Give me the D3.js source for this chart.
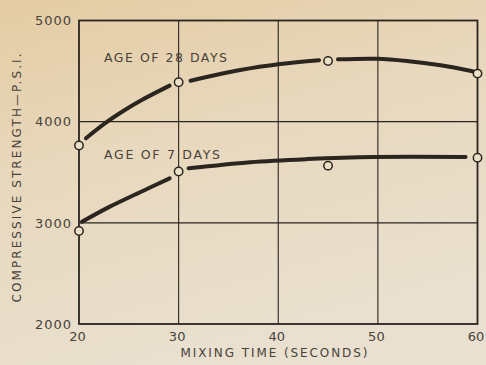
<!DOCTYPE html>
<html>
<head>
<meta charset="utf-8">
<script src="https://cdn.jsdelivr.net/npm/d3@7/dist/d3.min.js"></script>
<style>
  html, body { margin: 0; padding: 0; }
  body { width: 486px; height: 365px; overflow: hidden; }
  svg { display: block; }
  text { font-family: "DejaVu Sans", sans-serif; fill: #48423b; }
</style>
</head>
<body>
<svg id="chart" width="486" height="365"></svg>
<script>
// Mixing time (seconds) axis ticks and strength (psi) ticks
const xTicks = [20, 30, 40, 50, 60];
const yTicks = [2000, 3000, 4000, 5000];

// Test results: [mixing time, compressive strength]
const points28 = [[20, 3764], [30, 4390], [45, 4600], [60, 4475]];
const points7 = [[20, 2920], [30, 3507], [45, 3565], [60, 3644]];

// Faired curves through the results, broken at the markers
const curve28 = [
  [[20.7, 3836], [22.7, 3990], [24.6, 4115], [26.3, 4214], [29.1, 4356]],
  [[31.2, 4405], [36.2, 4511], [40.2, 4570], [44.1, 4607]],
  [[46.0, 4616], [49.9, 4622], [52.9, 4600], [56.3, 4557], [59.5, 4498]]
];
const curve7 = [
  [[20.3, 3010], [23.0, 3155], [26.3, 3310], [29.1, 3440]],
  [[31.0, 3539], [37.2, 3600], [42.9, 3630], [49.6, 3650], [58.8, 3650]]
];

const labels = [
  { text: "AGE OF 28 DAYS", x: 104, y: 62, len: 123 },
  { text: "AGE OF 7 DAYS", x: 104, y: 159, len: 116 }
];

const svg = d3.select("#chart");
const W = 486, H = 365;

// paper background
const defs = svg.append("defs");
const grad = defs.append("linearGradient")
  .attr("id", "paper").attr("x1", "0").attr("y1", "0").attr("x2", "0.35").attr("y2", "1");
grad.append("stop").attr("offset", "0").attr("stop-color", "#e4cca3");
grad.append("stop").attr("offset", "0.45").attr("stop-color", "#e8d8bd");
grad.append("stop").attr("offset", "1").attr("stop-color", "#e9e0cf");
svg.append("rect").attr("width", W).attr("height", H).attr("fill", "url(#paper)");

const x = d3.scaleLinear().domain([20, 60]).range([79, 477.5]);
const y = d3.scaleLinear().domain([2000, 5000]).range([324, 20.5]);

const ink = "#2b2520";

// grid
const g = svg.append("g");
g.selectAll("line.vg").data(xTicks.slice(1, -1)).join("line")
  .attr("x1", d => x(d)).attr("x2", d => x(d))
  .attr("y1", y(5000)).attr("y2", y(2000))
  .attr("stroke", ink).attr("stroke-width", 1.1);
g.selectAll("line.hg").data(yTicks.slice(1, -1)).join("line")
  .attr("x1", x(20)).attr("x2", x(60))
  .attr("y1", d => y(d)).attr("y2", d => y(d))
  .attr("stroke", ink).attr("stroke-width", 1.1);

// frame
g.append("rect")
  .attr("x", x(20)).attr("y", y(5000))
  .attr("width", x(60) - x(20)).attr("height", y(2000) - y(5000))
  .attr("fill", "none").attr("stroke", ink).attr("stroke-width", 1.8);

// axes (labels only; lines are the frame)
const xAxis = d3.axisBottom(x).tickValues(xTicks).tickSize(0).tickPadding(8).tickFormat(d3.format("d"));
const yAxis = d3.axisLeft(y).tickValues(yTicks).tickSize(0).tickPadding(7).tickFormat(d3.format("d"));

const gx = svg.append("g").attr("transform", `translate(0,${y(2000)})`).call(xAxis);
const gy = svg.append("g").attr("transform", `translate(${x(20)},0)`).call(yAxis);
[gx, gy].forEach(a => {
  a.select(".domain").remove();
  a.selectAll("text")
    .style("font-family", '"DejaVu Sans", sans-serif')
    .style("font-size", "13px")
    .attr("fill", "#48423b");
});
gx.selectAll("text").attr("dy", "0.72em").attr("dx", -2);
gy.selectAll("text").style("letter-spacing", "1px");

// axis titles
svg.append("text")
  .attr("x", 274).attr("y", 357)
  .attr("text-anchor", "middle")
  .attr("textLength", 187).attr("lengthAdjust", "spacing")
  .style("font-size", "12px")
  .text("MIXING TIME (SECONDS)");

svg.append("text")
  .attr("transform", "translate(21,178) rotate(-90)")
  .attr("text-anchor", "middle")
  .attr("textLength", 249).attr("lengthAdjust", "spacing")
  .style("font-size", "12px")
  .text("COMPRESSIVE STRENGTH—P.S.I.");

// curve labels
svg.selectAll("text.lab").data(labels).join("text")
  .attr("x", d => d.x).attr("y", d => d.y)
  .attr("textLength", d => d.len).attr("lengthAdjust", "spacing")
  .style("font-size", "12.5px")
  .text(d => d.text);

// curves
const line = d3.line().x(d => x(d[0])).y(d => y(d[1])).curve(d3.curveCatmullRom.alpha(0.5));
svg.append("g").selectAll("path").data([...curve28, ...curve7]).join("path")
  .attr("d", line)
  .attr("fill", "none").attr("stroke", ink)
  .attr("stroke-width", 4).attr("stroke-linecap", "round");

// markers
svg.append("g").selectAll("circle").data([...points28, ...points7]).join("circle")
  .attr("cx", d => x(d[0])).attr("cy", d => y(d[1]))
  .attr("r", 4.2)
  .attr("fill", "#ebe0c8").attr("stroke", ink).attr("stroke-width", 1.5);
</script>
</body>
</html>
